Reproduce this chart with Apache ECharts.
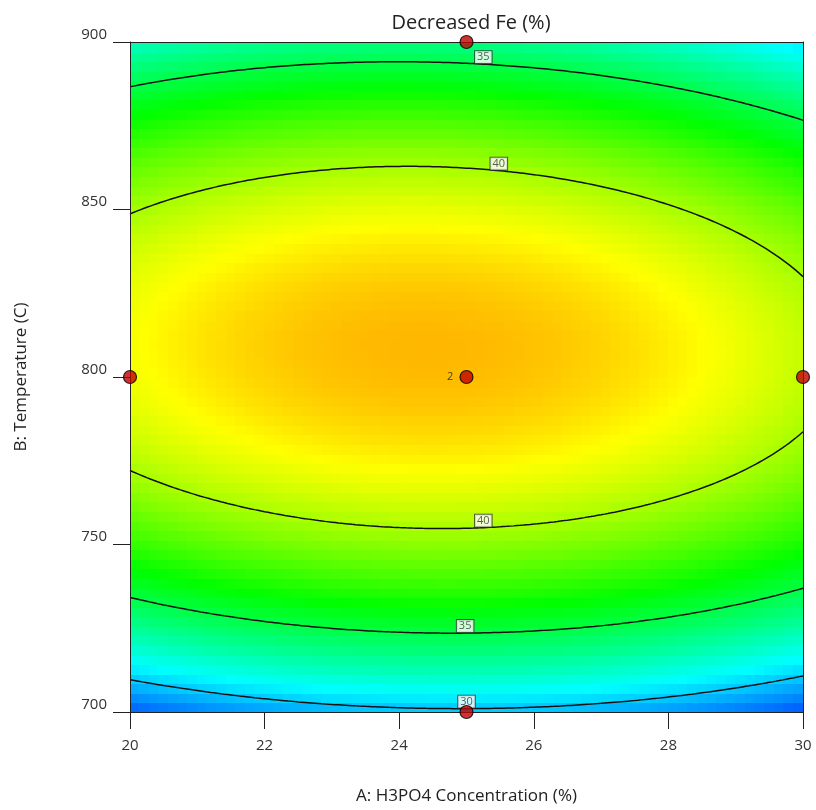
<!DOCTYPE html>
<html>
<head>
<meta charset="utf-8">
<script src="https://cdn.jsdelivr.net/npm/echarts@6/dist/echarts.min.js"></script>
<style>html,body{margin:0;padding:0;background:#fff}#c{width:816px;height:810px}</style>
</head>
<body>
<div id="c"></div>
<script>
// ---- data ----
const xTicks = [20, 22, 24, 26, 28, 30];
const yTicks = [700, 750, 800, 850, 900];
// quadratic response model in coded units a=(A-25)/5, b=(B-800)/100
// order: [intercept, a, b, ab, a^2, b^2]
const modelCoefficients = [43.24, -0.50, 1.98, -0.414, -2.176, -11.51];
const colorRange = [25.8, 47.2];
const contourLevels = [30, 35, 40];
// contour label anchors
const labelLevels = [35, 40, 40, 35, 30];
const labelBranches = ['upper', 'upper', 'lower', 'lower', 'lower'];
const labelA = [25.25, 25.48, 25.25, 24.98, 25.0];
// design points
const designA = [20, 30, 25, 25, 25];
const designB = [800, 800, 900, 700, 800];
const designLabels = ['', '', '', '', '2'];

const FONT = '"Open Sans", "Noto Sans", sans-serif';
const c = modelCoefficients;
function response(A, B) {
  const a = (A - 25) / 5, b = (B - 800) / 100;
  return c[0] + c[1]*a + c[2]*b + c[3]*a*b + c[4]*a*a + c[5]*b*b;
}
function contourB(A, level, branch) {
  const a = (A - 25) / 5;
  const qa = c[5], qb = c[2] + c[3]*a, qc = c[0] + c[1]*a + c[4]*a*a - level;
  const disc = qb*qb - 4*qa*qc;
  if (disc < 0) return null;
  const r1 = (-qb + Math.sqrt(disc)) / (2*qa);
  const r2 = (-qb - Math.sqrt(disc)) / (2*qa);
  const b = branch === 'upper' ? Math.max(r1, r2) : Math.min(r1, r2);
  return 800 + 100*b;
}

// surface cells
const nA = 70, nB = 70;
const dA = 10 / nA, dB = 200 / nB;
const cells = [];
for (let i = 0; i < nA; i++) {
  for (let j = 0; j < nB; j++) {
    const A = 20 + (i + 0.5) * dA, B = 700 + (j + 0.5) * dB;
    cells.push([A, B, response(A, B)]);
  }
}

// contour lines
const lineSeries = [];
contourLevels.forEach(L => {
  ['upper', 'lower'].forEach(br => {
    const pts = [];
    for (let k = 0; k <= 200; k++) {
      const A = 20 + k * 0.05;
      const B = contourB(A, L, br);
      if (B !== null && B >= 700 && B <= 900) pts.push([A, B]);
    }
    if (pts.length) lineSeries.push({
      type: 'line', data: pts, showSymbol: false, silent: true, z: 3,
      lineStyle: { color: '#111', width: 1.5 }, animation: false, clip: true
    });
  });
});

const labelData = labelLevels.map((L, i) => ({
  value: [labelA[i], contourB(labelA[i], L, labelBranches[i])],
  name: String(L)
}));

const chart = echarts.init(document.getElementById('c'), null, { renderer: 'canvas' });
const axisCommon = {
  axisLine: { show: true, lineStyle: { color: '#222', width: 1 } },
  splitLine: { show: false },
  z: 5
};
chart.setOption({
  animation: false,
  backgroundColor: '#fff',
  title: {
    text: 'Decreased Fe (%)', left: 466, top: 8, textAlign: 'center',
    textStyle: { fontFamily: FONT, fontSize: 20, fontWeight: 'normal', color: '#222' }
  },
  grid: { left: 130, right: 13, top: 42, bottom: 98, containLabel: false, outerBoundsMode: 'none' },
  visualMap: {
    show: false, type: 'continuous', seriesIndex: 0, dimension: 2,
    min: colorRange[0], max: colorRange[1],
    inRange: { color: ['#0000ff', '#00ffff', '#00ff00', '#ffff00', '#ff0000'] }
  },
  xAxis: [
    Object.assign({}, axisCommon, {
      type: 'value', min: xTicks[0], max: xTicks[xTicks.length-1], interval: 2,
      position: 'bottom',
      axisTick: { show: true, inside: false, length: 17, lineStyle: { color: '#222' } },
      axisLabel: { margin: 26, fontFamily: FONT, fontSize: 15, color: '#333' },
      name: 'A: H3PO4 Concentration (%)', nameLocation: 'middle', nameGap: 76,
      nameTextStyle: { fontFamily: FONT, fontSize: 17, color: '#222' }
    }),
    Object.assign({}, axisCommon, {
      type: 'value', min: 20, max: 30, position: 'top',
      axisTick: { show: false }, axisLabel: { show: false }
    })
  ],
  yAxis: [
    Object.assign({}, axisCommon, {
      type: 'value', min: yTicks[0], max: yTicks[yTicks.length-1], interval: 50,
      position: 'left',
      axisTick: { show: true, inside: false, length: 17, lineStyle: { color: '#222' } },
      axisLabel: { margin: 23, fontFamily: FONT, fontSize: 15, color: '#333', verticalAlign: 'bottom' },
      name: 'B: Temperature (C)', nameLocation: 'middle', nameGap: 100,
      nameTextStyle: { fontFamily: FONT, fontSize: 17, color: '#222' }
    }),
    Object.assign({}, axisCommon, {
      type: 'value', min: 700, max: 900, position: 'right',
      axisTick: { show: false }, axisLabel: { show: false }
    })
  ],
  series: [
    {
      type: 'custom', data: cells, z: 1, clip: true, silent: true,
      encode: { x: 0, y: 1 },
      renderItem: function (params, api) {
        const A = api.value(0), B = api.value(1);
        const p1 = api.coord([A - dA/2, B + dB/2]);
        const p2 = api.coord([A + dA/2, B - dB/2]);
        return {
          type: 'rect',
          shape: { x: Math.floor(p1[0]), y: Math.floor(p1[1]),
                   width: Math.ceil(p2[0] - p1[0]) + 1, height: Math.ceil(p2[1] - p1[1]) + 1 },
          style: { fill: api.visual('color') }
        };
      }
    }
  ].concat(lineSeries).concat([
    {
      type: 'scatter', data: labelData, symbolSize: 1, z: 6, silent: true,
      itemStyle: { color: 'rgba(0,0,0,0)' },
      label: {
        show: true, position: 'inside', offset: [0, -7], formatter: p => p.name,
        fontFamily: FONT, fontSize: 11, color: '#333', lineHeight: 12,
        backgroundColor: '#fff', borderColor: '#333', borderWidth: 1, padding: [0, 2, 0, 2]
      }
    },
    {
      type: 'scatter', z: 8, clip: false, silent: true,
      data: designA.map((a, i) => ({ value: [a, designB[i]], name: designLabels[i] })),
      symbol: 'circle', symbolSize: 13,
      itemStyle: { color: '#c00000', borderColor: '#000', borderWidth: 1.2 },
      label: { show: true, position: 'left', distance: 6, formatter: p => p.name,
               fontFamily: FONT, fontSize: 11, color: '#222' }
    }
  ])
});
</script>
</body>
</html>
